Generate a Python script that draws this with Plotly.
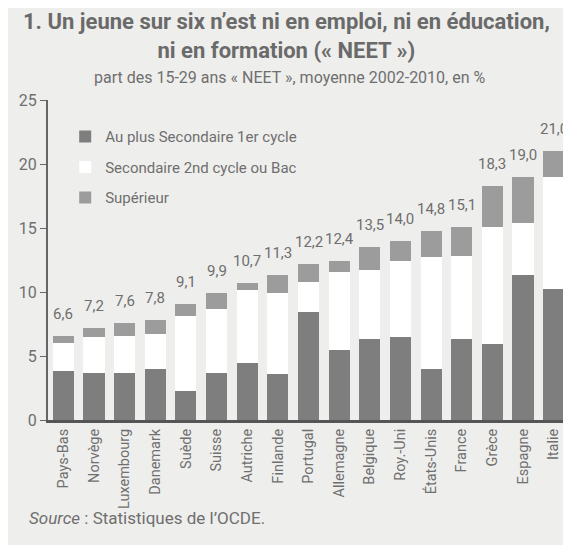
import plotly.graph_objects as go

pays = ["Pays-Bas", "Norvège", "Luxembourg", "Danemark", "Suède", "Suisse",
        "Autriche", "Finlande", "Portugal", "Allemagne", "Belgique", "Roy.-Uni",
        "États-Unis", "France", "Grèce", "Espagne", "Italie"]
secondaire1 = [3.8, 3.7, 3.7, 4.0, 2.25, 3.65, 4.45, 3.6, 8.4, 5.5, 6.3, 6.5, 4.0, 6.3, 5.95, 11.3, 10.2]
secondaire2 = [2.2, 2.75, 2.85, 2.75, 5.9, 5.05, 5.7, 6.3, 2.4, 6.05, 5.4, 5.9, 8.7, 6.5, 9.1, 4.1, 8.8]
superieur = [0.6, 0.75, 1.05, 1.05, 0.95, 1.2, 0.55, 1.4, 1.4, 0.85, 1.8, 1.6, 2.1, 2.3, 3.25, 3.6, 2.0]
totaux = [6.6, 7.2, 7.6, 7.8, 9.1, 9.9, 10.7, 11.3, 12.2, 12.4, 13.5, 14.0, 14.8, 15.1, 18.3, 19.0, 21.0]
y_ticks = [0, 5, 10, 15, 20, 25]

BG = "#eeeeec"
TXT = "#6f6f6f"
FONT = "Roboto"

fig = go.Figure()
fig.add_trace(go.Bar(x=pays, y=secondaire1, name="Au plus Secondaire 1er cycle",
                     marker=dict(color="#7e7e7e", line=dict(width=0)), legendgroup="a"))
fig.add_trace(go.Bar(x=pays, y=secondaire2, name="Secondaire 2nd cycle ou Bac",
                     marker=dict(color="#ffffff", line=dict(width=0)), legendgroup="b"))
fig.add_trace(go.Bar(x=pays, y=superieur, name="Supérieur",
                     marker=dict(color="#9c9c9c", line=dict(width=0)), legendgroup="c"))

for p, t in zip(pays, totaux):
    fig.add_annotation(x=p, y=t, text=f"{t:.1f}".replace(".", ","), showarrow=False,
                       yanchor="middle", yshift=22,
                       font=dict(family=FONT, size=15, color=TXT))

fig.update_layout(
    width=563, height=537,
    paper_bgcolor=BG, plot_bgcolor=BG,
    barmode="stack", bargap=0.31,
    margin=dict(l=40, r=2, t=92, b=125),
    font=dict(family=FONT, color=TXT),
    showlegend=True,
    legend=dict(x=0.033, y=0.937, xanchor="left", yanchor="top",
                bgcolor="rgba(0,0,0,0)", traceorder="grouped", tracegroupgap=8,
                font=dict(family=FONT, size=15, color=TXT),
                itemwidth=30),
    xaxis=dict(range=[-0.5, 16.5], tickangle=-90, showgrid=False,
               tickfont=dict(family=FONT, size=14.5, color=TXT),
               showline=True, linecolor="#555555", linewidth=3, ticks="", ticklen=0,
               zeroline=False),
    yaxis=dict(range=[0, 25], tickvals=y_ticks, ticks="outside", ticklen=6,
               tickcolor="#666666", showgrid=False, zeroline=False,
               showline=True, linecolor="#666666", linewidth=2,
               tickfont=dict(family=FONT, size=16, color=TXT)),
)

fig.add_annotation(xref="paper", yref="paper", x=0.457, y=1, xanchor="center", yanchor="middle",
                   yshift=64, showarrow=False, align="center",
                   text="<b>1. Un jeune sur six n’est ni en emploi, ni en éducation,<br>ni en formation (« NEET »)</b>",
                   font=dict(family=FONT, size=22, color="#6a6a6a"))
fig.add_annotation(xref="paper", yref="paper", x=0.465, y=1, xanchor="center", yanchor="middle",
                   yshift=23, showarrow=False,
                   text="part des 15-29 ans « NEET », moyenne 2002-2010, en %",
                   font=dict(family=FONT, size=16, color=TXT))
fig.add_annotation(xref="paper", yref="paper", x=-0.04, y=0, xanchor="left", yanchor="middle",
                   yshift=-98, showarrow=False,
                   text="<i>Source</i> : Statistiques de l’OCDE.",
                   font=dict(family=FONT, size=17, color=TXT))

fig.write_html("out.html")
